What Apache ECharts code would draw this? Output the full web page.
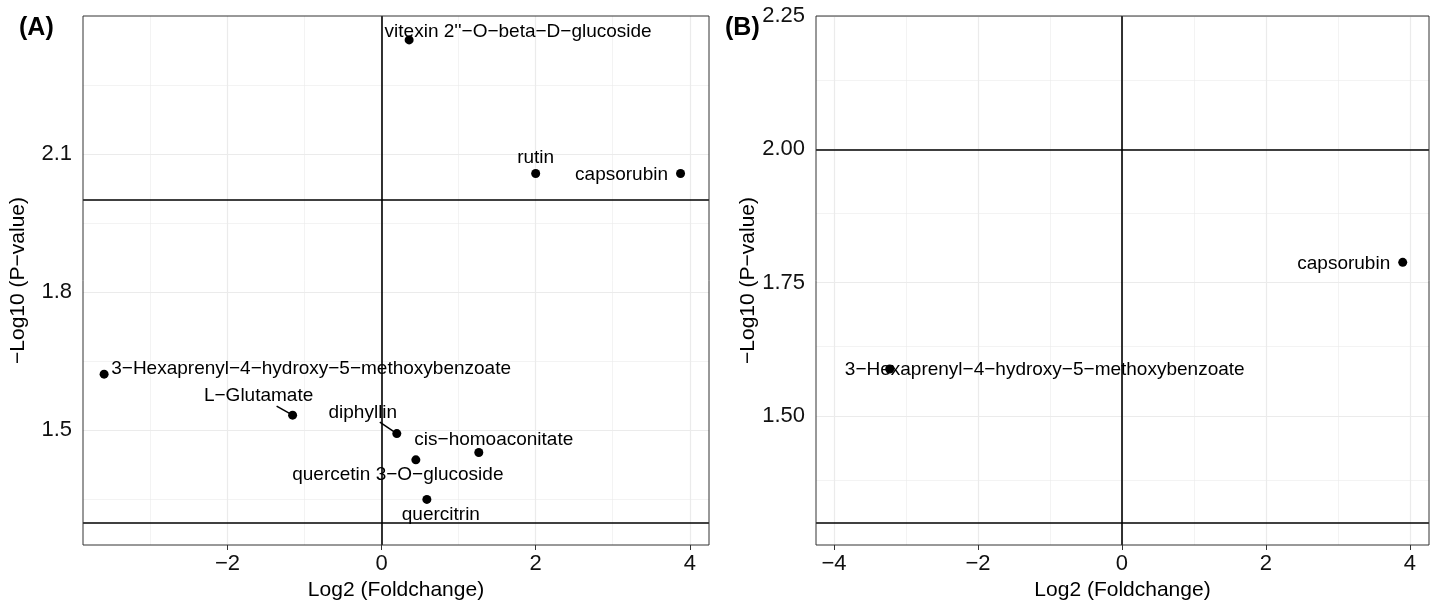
<!DOCTYPE html>
<html><head><meta charset="utf-8">
<script src="https://cdn.jsdelivr.net/npm/echarts@6/dist/echarts.min.js"></script>
<style>html,body{margin:0;padding:0;background:#fff;}#c{width:1434px;height:601px;}</style>
</head><body><div id="c"></div>
<script>
// ---------- data ----------
const namesA = ["vitexin 2''\u2212O\u2212beta\u2212D\u2212glucoside", "rutin", "capsorubin",
  "3\u2212Hexaprenyl\u22124\u2212hydroxy\u22125\u2212methoxybenzoate", "L\u2212Glutamate", "diphyllin",
  "cis\u2212homoaconitate", "quercetin 3\u2212O\u2212glucoside", "quercitrin"];
const log2fcA = [0.358, 2.00, 3.88, -3.60, -1.154, 0.198, 1.262, 0.445, 0.588];
const log10pA = [2.348, 2.058, 2.058, 1.622, 1.533, 1.493, 1.452, 1.436, 1.350];

const namesB = ["capsorubin", "3\u2212Hexaprenyl\u22124\u2212hydroxy\u22125\u2212methoxybenzoate"];
const log2fcB = [3.90, -3.226];
const log10pB = [1.788, 1.588];

const xTicksA = [-2, 0, 2, 4];
const xMinorA = [-3, -1, 1, 3];
const yTicksA = [1.5, 1.8, 2.1];
const yMinorA = [1.35, 1.65, 1.95, 2.25];
const xTicksB = [-4, -2, 0, 2, 4];
const xMinorB = [-3, -1, 1, 3];
const yTicksB = [1.5, 1.75, 2.0, 2.25];
const yMinorB = [1.375, 1.625, 1.875, 2.125];

const fcCutoff = [0];
const pCutoffs = [1.30103, 2.0];

const xTitle = "Log2 (Foldchange)";
const yTitle = "\u2212Log10 (P\u2212value)";

// ---------- layout (pixel offsets of labels, not data) ----------
const labelOffsetA = [[109,-8],[0,-16],[-59,1],[207,-5],[-34,-19],[-34,-21],[15,-13],[-18,15],[14,15]];
const labelOffsetB = [[-59,1],[155,1]];
const connectorA = {4: [-16,-9], 5: [-17,-11.5]};

const FONT = "'Liberation Sans', Arial, Helvetica, sans-serif";
const fmtMinus = v => String(v).replace('-', '\u2212');

function xAxisCfg(gi, min, max, ticks) {
  return {
    type: 'value', gridIndex: gi, min: min, max: max,
    name: xTitle, nameLocation: 'middle', nameGap: 35,
    nameTextStyle: {fontSize: 21, color: '#000', fontFamily: FONT},
    axisLine: {show: false},
    axisTick: {show: true, length: 5, customValues: ticks, lineStyle: {color: '#333', width: 1}},
    axisLabel: {customValues: ticks, fontSize: 22, color: '#111', fontFamily: FONT, margin: 8, formatter: fmtMinus},
    splitLine: {show: false}
  };
}
function yAxisCfg(gi, min, max, ticks, dec) {
  return {
    type: 'value', gridIndex: gi, min: min, max: max,
    name: yTitle, nameLocation: 'middle', nameGap: 54, nameRotate: 90,
    nameTextStyle: {fontSize: 21, color: '#000', fontFamily: FONT},
    axisLine: {show: false},
    axisTick: {show: true, length: 5, customValues: ticks, lineStyle: {color: '#333', width: 1}},
    axisLabel: {customValues: ticks, fontSize: 22, color: '#111', fontFamily: FONT, margin: 11,
      formatter: v => v.toFixed(dec)},
    splitLine: {show: false}
  };
}
function gridSeries(ai, xMaj, xMin, yMaj, yMin) {
  const d = [];
  xMin.forEach(v => d.push({xAxis: v, lineStyle: {width: 0.6}}));
  yMin.forEach(v => d.push({yAxis: v, lineStyle: {width: 0.6}}));
  xMaj.forEach(v => d.push({xAxis: v, lineStyle: {width: 1.2}}));
  yMaj.forEach(v => d.push({yAxis: v, lineStyle: {width: 1.2}}));
  return {type: 'line', xAxisIndex: ai, yAxisIndex: ai, data: [], z: 1, silent: true,
    markLine: {z: 1, symbol: 'none', silent: true, animation: false, label: {show: false},
      lineStyle: {color: '#ebebeb', type: 'solid'}, emphasis: {disabled: true}, data: d}};
}
function refSeries(ai) {
  const d = [];
  fcCutoff.forEach(v => d.push({xAxis: v}));
  pCutoffs.forEach(v => d.push({yAxis: v}));
  return {type: 'line', xAxisIndex: ai, yAxisIndex: ai, data: [], z: 2, silent: true,
    markLine: {z: 2, symbol: 'none', silent: true, animation: false, label: {show: false},
      lineStyle: {color: '#000', type: 'solid', width: 1.6}, emphasis: {disabled: true}, data: d}};
}
function pointSeries(ai, names, xs, ys, offs) {
  return {type: 'scatter', xAxisIndex: ai, yAxisIndex: ai, z: 4, symbolSize: 9,
    itemStyle: {color: '#000', opacity: 1}, animation: false,
    label: {show: true, position: 'inside', align: 'center', verticalAlign: 'middle',
      fontSize: 19, color: '#000', fontFamily: FONT, formatter: p => p.name},
    emphasis: {disabled: true},
    data: names.map((n, i) => ({name: n, value: [xs[i], ys[i]], label: {offset: offs[i]}}))};
}

const connectorData = Object.keys(connectorA).map(k => [log2fcA[+k], log10pA[+k], +k]);

const option = {
  backgroundColor: '#fff',
  animation: false,
  title: [
    {text: '(A)', left: 19, top: 16, padding: 0, textStyle: {fontSize: 25, fontWeight: 'bold', color: '#000', fontFamily: FONT}},
    {text: '(B)', left: 725, top: 16, padding: 0, textStyle: {fontSize: 25, fontWeight: 'bold', color: '#000', fontFamily: FONT}}
  ],
  grid: [
    {left: 83, top: 16, width: 626, height: 529, show: true, borderColor: '#333', borderWidth: 1,
      backgroundColor: 'transparent', z: 10, outerBoundsMode: 'none', containLabel: false},
    {left: 816, top: 16, width: 613, height: 529, show: true, borderColor: '#333', borderWidth: 1,
      backgroundColor: 'transparent', z: 10, outerBoundsMode: 'none', containLabel: false}
  ],
  xAxis: [xAxisCfg(0, -3.874, 4.249, xTicksA), xAxisCfg(1, -4.25, 4.265, xTicksB)],
  yAxis: [yAxisCfg(0, 1.251, 2.4, yTicksA, 1), yAxisCfg(1, 1.258, 2.25, yTicksB, 2)],
  series: [
    gridSeries(0, xTicksA, xMinorA, yTicksA, yMinorA),
    gridSeries(1, xTicksB, xMinorB, yTicksB, yMinorB),
    refSeries(0), refSeries(1),
    {type: 'custom', xAxisIndex: 0, yAxisIndex: 0, z: 3, silent: true, data: connectorData,
      renderItem: (params, api) => {
        const p = api.coord([api.value(0), api.value(1)]);
        const o = connectorA[api.value(2)];
        return {type: 'line', shape: {x1: p[0], y1: p[1], x2: p[0] + o[0], y2: p[1] + o[1]},
          style: {stroke: '#000', lineWidth: 1.5}};
      }},
    pointSeries(0, namesA, log2fcA, log10pA, labelOffsetA),
    pointSeries(1, namesB, log2fcB, log10pB, labelOffsetB)
  ]
};
const chart = echarts.init(document.getElementById('c'), null, {renderer: 'canvas'});
chart.setOption(option);
</script></body></html>
